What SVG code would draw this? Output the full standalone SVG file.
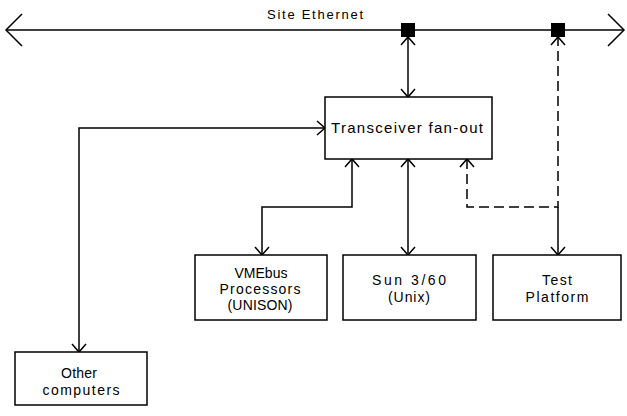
<svg xmlns="http://www.w3.org/2000/svg" width="627" height="416" viewBox="0 0 627 416">
<style>
.box{fill:#fff;stroke:#000;stroke-width:1.5}
.ln{fill:none;stroke:#000;stroke-width:1.5}
.dash{stroke-dasharray:10 5}
text{font-family:"Liberation Sans","DejaVu Sans",Arial,sans-serif;fill:#000;text-anchor:middle}
.t14{font-size:14px}
</style>
<defs>
<marker id="a" markerUnits="userSpaceOnUse" markerWidth="20" markerHeight="20" viewBox="-10 -10 20 20" refX="0" refY="0" orient="auto-start-reverse" overflow="visible">
<path d="M-8,-7 L0,0 L-8,7" fill="none" stroke="#000" stroke-width="1.5"/>
</marker>
<marker id="big" markerUnits="userSpaceOnUse" markerWidth="40" markerHeight="40" viewBox="-20 -20 40 40" refX="0" refY="0" orient="auto-start-reverse" overflow="visible">
<path d="M-16,-16 L0,0 L-16,16" fill="none" stroke="#000" stroke-width="1.5"/>
</marker>
</defs>
<g id="connectors">
<path class="ln" d="M6,30 L624,30" marker-start="url(#big)" marker-end="url(#big)"/>
<path class="ln" d="M408,37 L408,97" marker-start="url(#a)" marker-end="url(#a)"/>
<path class="ln" d="M325,128 L79,128 L79,352" marker-start="url(#a)" marker-end="url(#a)"/>
<path class="ln" d="M352,159 L352,207 L262,207 L262,255" marker-start="url(#a)" marker-end="url(#a)"/>
<path class="ln" d="M408,159 L408,255" marker-start="url(#a)" marker-end="url(#a)"/>
<path class="ln dash" d="M467,159 L467,207 L558,207 L558,37" marker-start="url(#a)" marker-end="url(#a)"/>
<path class="ln" d="M558,207 L558,255" marker-end="url(#a)"/>
</g>
<g id="ethernet">
<text x="315" y="19" font-size="13" textLength="96" lengthAdjust="spacing">Site Ethernet</text>
</g>
<g id="tap1"><rect x="401" y="23" width="14" height="14" fill="#000"/></g>
<g id="tap2"><rect x="551" y="23" width="14" height="14" fill="#000"/></g>
<g id="transceiver">
<rect class="box" x="325" y="97" width="167" height="62"/>
<text x="407" y="133" font-size="15" textLength="152" lengthAdjust="spacing">Transceiver fan-out</text>
</g>
<g id="vmebus">
<rect class="box" x="195" y="255" width="132" height="65"/>
<text class="t14" x="261" y="278">VMEbus</text>
<text class="t14" x="260" y="294" textLength="81" lengthAdjust="spacing">Processors</text>
<text class="t14" x="260" y="310" textLength="65" lengthAdjust="spacing">(UNISON)</text>
</g>
<g id="sun">
<rect class="box" x="343" y="255" width="133" height="65"/>
<text class="t14" x="409" y="285" textLength="74" lengthAdjust="spacing">Sun 3/60</text>
<text class="t14" x="409" y="302" textLength="42" lengthAdjust="spacing">(Unix)</text>
</g>
<g id="test">
<rect class="box" x="493" y="255" width="128" height="65"/>
<text class="t14" x="557" y="285" textLength="30" lengthAdjust="spacing">Test</text>
<text class="t14" x="557" y="302" textLength="63" lengthAdjust="spacing">Platform</text>
</g>
<g id="other">
<rect class="box" x="15" y="352" width="132" height="53"/>
<text class="t14" x="79" y="378" textLength="36" lengthAdjust="spacing">Other</text>
<text class="t14" x="81" y="395" textLength="77" lengthAdjust="spacing">computers</text>
</g>
</svg>
